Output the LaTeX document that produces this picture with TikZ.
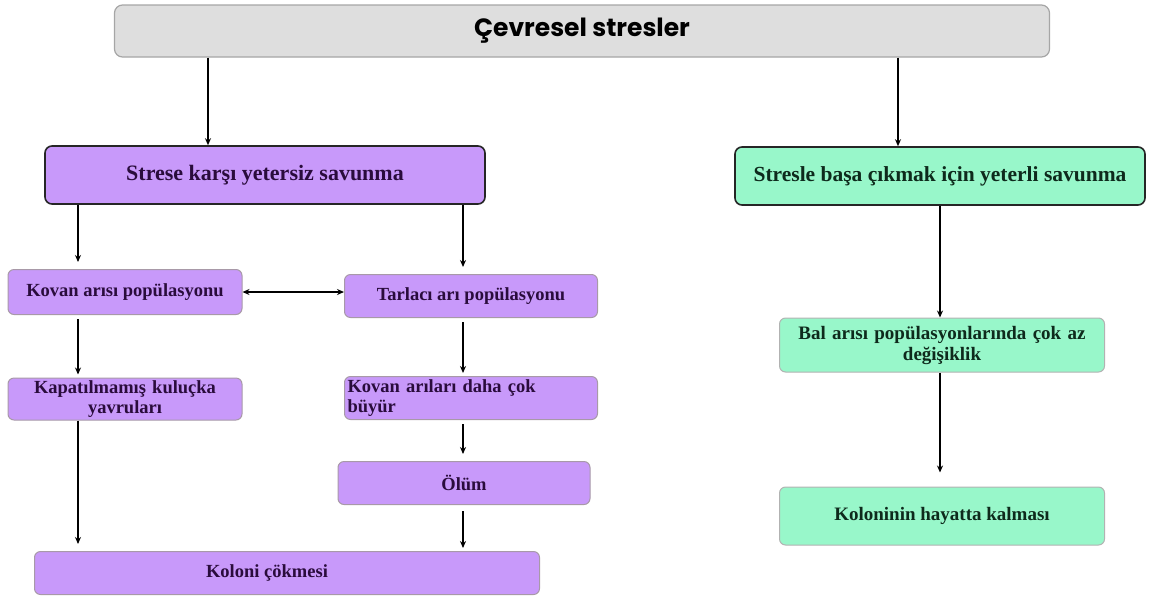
\documentclass[tikz,border=0pt]{standalone}
\usepackage{fontspec}
\setmainfont{Liberation Serif}
\newfontfamily\headfont{Poppins}
\usepackage{xcolor}
\usetikzlibrary{arrows.meta}

\definecolor{bgray}{HTML}{DEDEDE}
\definecolor{lilac}{HTML}{C899FA}
\definecolor{mint}{HTML}{98F7CA}
\definecolor{inkpurple}{HTML}{2A0C3C}
\definecolor{inkgreen}{HTML}{0E2A1C}

\tikzset{
  headbox/.style={draw=black!35, line width=1.2pt, fill=bgray, rounded corners=8pt,
                  font=\headfont\bfseries\fontsize{25}{28}\selectfont},
  badbox/.style={draw=black!85, line width=1.6pt, fill=lilac, rounded corners=7pt,
                 text=inkpurple, font=\bfseries\fontsize{22}{24}\selectfont},
  goodbox/.style={draw=black!85, line width=1.6pt, fill=mint, rounded corners=7pt,
                  text=inkgreen, font=\bfseries\fontsize{21.5}{24}\selectfont},
  purplebox/.style={draw=violet!30!black!40, line width=1pt, fill=lilac, rounded corners=6pt,
                    text=inkpurple, font=\bfseries\fontsize{18.5}{20}\selectfont, align=center},
  mintbox/.style={draw=black!30, line width=1pt, fill=mint, rounded corners=6pt,
                  text=inkgreen, font=\bfseries\fontsize{19}{21}\selectfont, align=center},
  arr/.style={-{Stealth[length=7pt,width=6pt]}, line width=1.4pt},
  darr/.style={{Stealth[length=7pt,width=6pt]}-{Stealth[length=7pt,width=6pt]}, line width=1.4pt}
}

\begin{document}
\begin{tikzpicture}[x=1pt, y=-1pt]
  \useasboundingbox (0,0) rectangle (1161,598);

  % top
  \node[headbox, minimum width=935pt, minimum height=52pt] (top) at (582,31) {Çevresel stresler};

  % left branch
  \node[badbox, minimum width=440pt, minimum height=58pt] (weak) at (265,175) {Strese karşı yetersiz savunma};
  \node[purplebox, minimum width=234pt, minimum height=45pt] (hive) at (125,292) {Kovan arısı popülasyonu};
  \node[purplebox, minimum width=253pt, minimum height=43pt] (forager) at (471,296) {Tarlacı arı popülasyonu};
  \node[purplebox, minimum width=234pt, minimum height=42pt, text width=228pt, inner sep=2pt] (brood) at (125,399)
    {Kapatılmamış kuluçka\\ yavruları};
  \node[purplebox, minimum width=253pt, minimum height=43pt, text width=247pt, inner sep=2pt, align=left] (grow) at (471,398)
    {Kovan arıları daha çok\\ büyür};
  \node[purplebox, minimum width=252pt, minimum height=43pt] (death) at (464,483) {Ölüm};
  \node[purplebox, minimum width=505pt, minimum height=43pt] (collapse) at (287,573) {Koloni çökmesi\hspace*{40pt}};

  % right branch
  \node[goodbox, minimum width=410pt, minimum height=58pt, inner sep=2pt] (strong) at (940,176) {Stresle başa çıkmak için yeterli savunma};
  \node[mintbox, minimum width=325pt, minimum height=54pt, text width=315pt, inner sep=2pt] (little) at (942,345)
    {Bal arısı popülasyonlarında çok az\\ değişiklik};
  \node[mintbox, minimum width=325pt, minimum height=58pt] (survive) at (942,516) {Koloninin hayatta kalması};

  % arrow columns
  \coordinate (cA) at (208,0);
  \coordinate (cB) at (898,0);
  \coordinate (cL) at (78,0);
  \coordinate (cR) at (463,0);

  \draw[arr] (top.south -| cA) -- (weak.north -| cA);
  \draw[arr] (top.south -| cB) -- (strong.north -| cB);
  \draw[arr, shorten >=7pt] (weak.south -| cL) -- (hive.north -| cL);
  \draw[arr, shorten >=7pt] (weak.south -| cR) -- (forager.north -| cR);
  \draw[darr] (hive.east) -- (forager.west |- hive.east);
  \draw[arr, shorten <=4pt, shorten >=3pt] (hive.south -| cL) -- (brood.north -| cL);
  \draw[arr, shorten <=4pt, shorten >=3pt] (forager.south -| cR) -- (grow.north -| cR);
  \draw[arr, shorten <=4pt, shorten >=7pt] (grow.south -| cR) -- (death.north -| cR);
  \draw[arr, shorten >=7pt] (brood.south -| cL) -- (collapse.north -| cL);
  \draw[arr, shorten <=6pt, shorten >=3pt] (death.south -| cR) -- (collapse.north -| cR);
  \draw[arr] (strong.south) -- (little.north -| strong.south);
  \draw[arr, shorten >=14pt] (little.south -| strong.south) -- (survive.north -| strong.south);
\end{tikzpicture}
\end{document}
